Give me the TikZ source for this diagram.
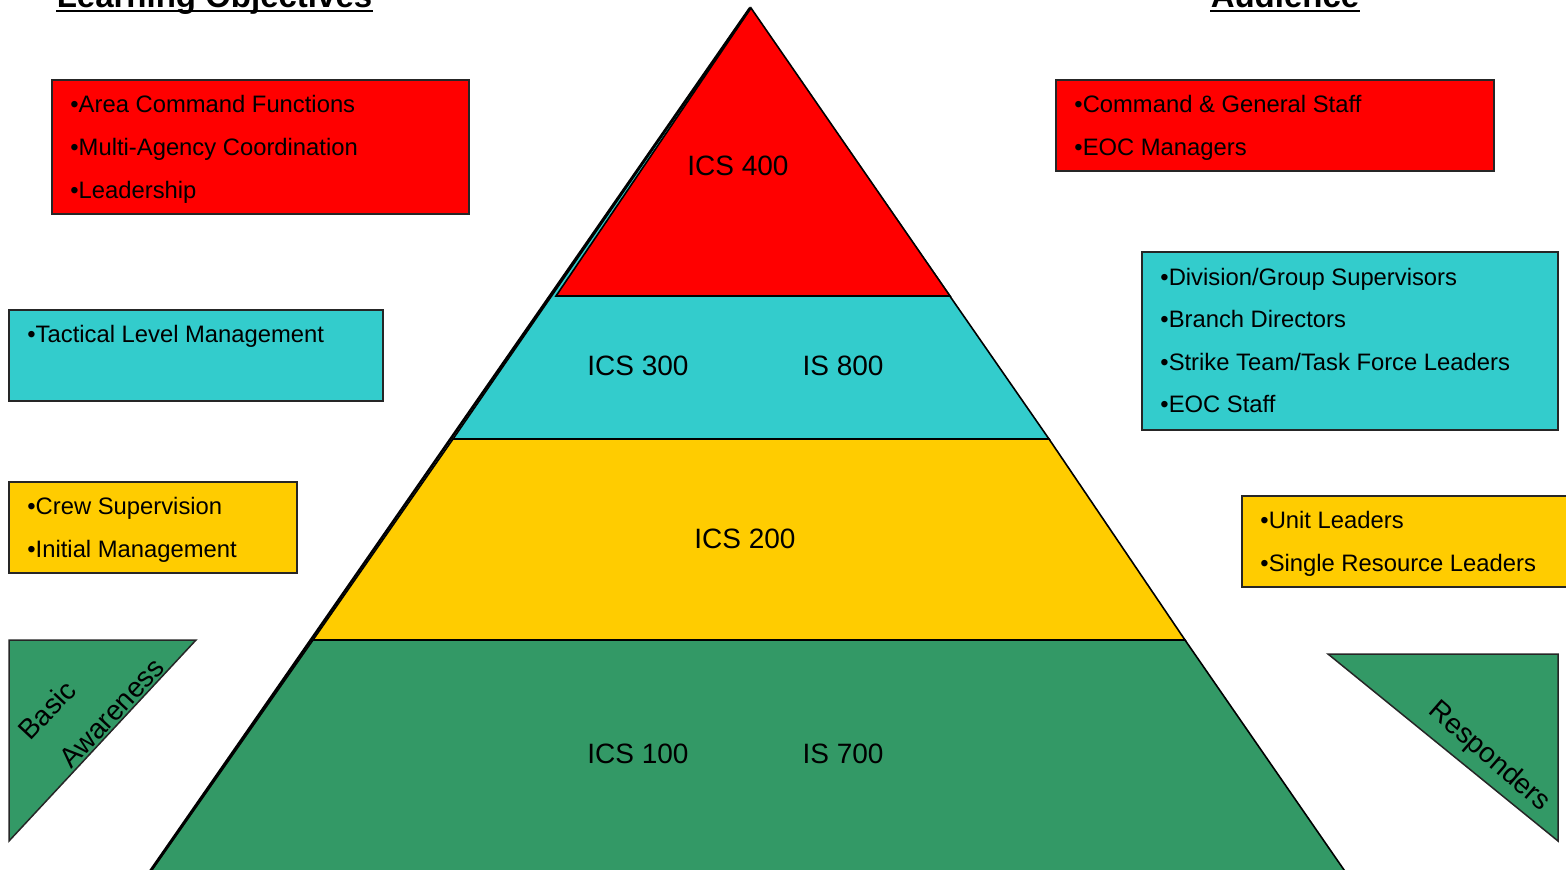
\documentclass[tikz,border=0pt]{standalone}
\usepackage{fontspec}
\setmainfont{Liberation Sans}
\definecolor{pred}{HTML}{FF0000}
\definecolor{pcyan}{HTML}{33CCCC}
\definecolor{pyel}{HTML}{FFCC00}
\definecolor{pgreen}{HTML}{339966}
\begin{document}
\begin{tikzpicture}[x=0.5pt,y=-0.5pt,
 box/.style={draw=black!85, line width=0.75pt},
 layer/.style={draw=black, line width=0.8pt},
 btxt/.style={anchor=base west, inner sep=0pt, font=\fontsize{11.9}{13}\selectfont},
 lvl/.style={anchor=base, inner sep=0pt, font=\fontsize{14}{16}\selectfont},
 ttl/.style={anchor=base, inner sep=0pt, font=\fontsize{16.5}{18}\selectfont\bfseries},
 rot/.style={inner sep=0pt, font=\fontsize{14}{16}\selectfont}]
\useasboundingbox (0,0) rectangle (1566,869);
\clip (0,0) rectangle (1566,869);
% titles
\node[ttl] (lo) at (214.5,7) {Learning Objectives};
\draw[line width=1.25pt] ([yshift=-2pt]lo.base west) -- ([yshift=-2pt]lo.base east);
\node[ttl] (au) at (1285,7) {Audience};
\draw[line width=1.25pt] ([yshift=-2pt]au.base west) -- ([yshift=-2pt]au.base east);
% pyramid
\coordinate (apex) at (750,8);
\fill[pgreen,layer] (313,640) -- (1185,640) -- (1351,880) -- (145,880) -- cycle;
\fill[pyel,layer] (453,439) -- (1049,439) -- (1185,640) -- (313,640) -- cycle;
\fill[pcyan,layer] (apex) -- (1049,439) -- (453,439) -- cycle;
\fill[pred,layer] (751,8) -- (950,296) -- (556,296) -- cycle;
\coordinate (baseL) at (144,880);
\draw[line width=1.3pt] (apex) -- (baseL);
% level labels
\node[lvl] (i400) at (738,175) {ICS 400};
\node[lvl] (i300) at (638,375) {ICS 300};
\node[lvl] (i800) at (843,375) {IS 800};
\node[lvl] (i200) at (745,548) {ICS 200};
\node[lvl] (i100) at (638,763) {ICS 100};
\node[lvl] (i700) at (843,763) {IS 700};
% left boxes
\draw[box,fill=pred] (52,80) rectangle (469,214);
\node[btxt] (l1a) at (70,112) {•Area Command Functions};
\node[btxt] (l1b) at (70,155) {•Multi-Agency Coordination};
\node[btxt] (l1c) at (70,198) {•Leadership};
\draw[box,fill=pcyan] (9,310) rectangle (383,401);
\node[btxt] (l2a) at (27,342) {•Tactical Level Management};
\draw[box,fill=pyel] (9,482) rectangle (297,573);
\node[btxt] (l3a) at (27,514) {•Crew Supervision};
\node[btxt] (l3b) at (27,557) {•Initial Management};
\draw[box,fill=pgreen] (9,640) -- (196,640) -- (9,841) -- cycle;
\node[rot,rotate=47] (basic) at (47,710) {Basic};
\node[rot,rotate=47] (aware) at (112,713) {Awareness};
% right boxes
\draw[box,fill=pred] (1056,80) rectangle (1494,171);
\node[btxt] (r1a) at (1074,112) {•Command \& General Staff};
\node[btxt] (r1b) at (1074,155) {•EOC Managers};
\draw[box,fill=pcyan] (1142,252) rectangle (1558,430);
\node[btxt] (r2a) at (1160,285) {•Division/Group Supervisors};
\node[btxt] (r2b) at (1160,327) {•Branch Directors};
\node[btxt] (r2c) at (1160,370) {•Strike Team/Task Force Leaders};
\node[btxt] (r2d) at (1160,412) {•EOC Staff};
\draw[box,fill=pyel] (1242,496) rectangle (1580,587);
\node[btxt] (r3a) at (1260,528) {•Unit Leaders};
\node[btxt] (r3b) at (1260,571) {•Single Resource Leaders};
\draw[box,fill=pgreen] (1328,654) -- (1558,654) -- (1558,841) -- cycle;
\node[rot,rotate=-41] (resp) at (1489,757) {Responders};
\end{tikzpicture}
\end{document}
